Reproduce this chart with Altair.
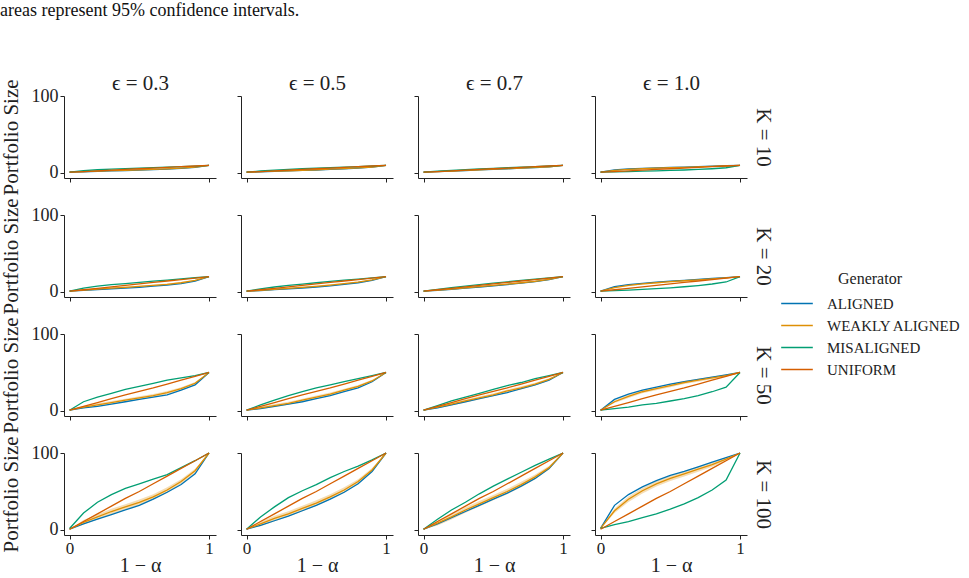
import altair as alt
import pandas as pd

# ---------------- data ----------------
X_LEVELS = [0.0, 0.1, 0.2, 0.3, 0.4, 0.5, 0.6, 0.7, 0.8, 0.9, 1.0]
K_VALUES = [10, 20, 50, 100]
EPSILONS = ["0.3", "0.5", "0.7", "1.0"]
GENERATORS = ["Aligned", "Weakly Aligned", "Misaligned", "Uniform"]
COLORS = ["#0173b2", "#de8f05", "#029e73", "#d55e00"]

# each list of 4 series follows EPSILONS order
ALIGNED_K10 = [
    [1, 1.6, 2.2, 2.7, 3.2, 3.8, 4.4, 5.1, 6.0, 7.3, 10],
    [1, 1.5, 2.1, 2.7, 3.3, 3.9, 4.6, 5.4, 6.3, 7.6, 10],
    [1, 1.7, 2.5, 3.2, 4.0, 4.7, 5.4, 6.2, 7.0, 8.0, 10],
    [1, 4.0, 5.2, 6.0, 6.6, 7.2, 7.7, 8.2, 8.8, 9.4, 10],
]
WEAKLY_K10 = [
    [1, 1.8, 2.4, 3.0, 3.5, 4.1, 4.7, 5.4, 6.3, 7.6, 10],
    [1, 1.7, 2.3, 2.9, 3.5, 4.2, 4.9, 5.7, 6.6, 7.8, 10],
    [1, 1.8, 2.6, 3.4, 4.2, 4.9, 5.6, 6.4, 7.2, 8.1, 10],
    [1, 3.4, 4.6, 5.5, 6.2, 6.8, 7.4, 8.0, 8.6, 9.2, 10],
]
MISALIGNED_K10 = [
    [1, 3.0, 4.2, 5.1, 5.8, 6.4, 7.0, 7.6, 8.3, 9.0, 10],
    [1, 2.6, 3.7, 4.7, 5.5, 6.2, 6.9, 7.6, 8.3, 9.1, 10],
    [1, 2.3, 3.4, 4.3, 5.2, 6.0, 6.8, 7.5, 8.3, 9.1, 10],
    [1, 1.5, 1.9, 2.3, 2.8, 3.3, 3.9, 4.6, 5.5, 6.8, 10],
]
UNIFORM_K10 = [1, 1.9, 2.8, 3.7, 4.6, 5.5, 6.4, 7.3, 8.2, 9.1, 10]
CI_K10 = [0, 0.4, 0.5, 0.5, 0.5, 0.5, 0.5, 0.5, 0.4, 0.3, 0]

ALIGNED_K20 = [
    [1, 2.0, 3.0, 4.0, 5.0, 6.0, 7.5, 9.0, 11.0, 14.0, 20],
    [1, 1.8, 3.0, 4.0, 5.2, 6.5, 8.0, 10.0, 12.0, 15.0, 20],
    [1, 2.0, 3.5, 5.0, 6.5, 8.0, 9.7, 11.5, 13.4, 16.0, 20],
    [1, 7.0, 9.5, 11.3, 12.8, 14.1, 15.2, 16.3, 17.5, 18.7, 20],
]
WEAKLY_K20 = [
    [1, 2.3, 3.6, 5.0, 6.0, 7.2, 8.5, 10.0, 12.0, 15.0, 20],
    [1, 2.2, 3.4, 4.6, 6.0, 7.4, 9.0, 10.8, 12.8, 15.6, 20],
    [1, 2.3, 3.8, 5.3, 6.9, 8.5, 10.2, 12.0, 13.9, 16.3, 20],
    [1, 5.8, 8.5, 10.5, 12.0, 13.4, 14.6, 15.8, 17.1, 18.4, 20],
]
MISALIGNED_K20 = [
    [1, 5.0, 7.5, 9.5, 11.0, 12.5, 14.0, 15.5, 17.0, 18.5, 20],
    [1, 4.0, 6.5, 8.5, 10.3, 12.0, 13.7, 15.3, 16.8, 18.4, 20],
    [1, 3.5, 5.6, 7.5, 9.5, 11.4, 13.2, 15.0, 16.8, 18.4, 20],
    [1, 1.8, 2.5, 3.3, 4.3, 5.4, 6.8, 8.4, 10.4, 13.0, 20],
]
UNIFORM_K20 = [1, 2.9, 4.8, 6.7, 8.6, 10.5, 12.4, 14.3, 16.2, 18.1, 20]
CI_K20 = [0, 0.7, 0.9, 1.0, 1.0, 1.0, 1.0, 1.0, 0.9, 0.7, 0]

ALIGNED_K50 = [
    [1, 4, 6, 9, 12, 15, 18, 21, 27, 34, 50],
    [1, 3, 6, 9, 12, 16, 20, 25, 30, 38, 50],
    [1, 4, 8, 12, 16, 20, 24, 29, 34, 40, 50],
    [1, 15, 22, 27, 31, 35, 38, 41, 44, 47, 50],
]
WEAKLY_K50 = [
    [1, 5, 8, 11, 14, 17, 20, 24, 29, 36, 50],
    [1, 4, 7, 10, 14, 18, 22, 27, 32, 39, 50],
    [1, 5, 9, 13, 17, 21, 26, 30, 35, 41, 50],
    [1, 12, 19, 25, 29, 33, 37, 40, 43, 46, 50],
]
MISALIGNED_K50 = [
    [1, 12, 18, 23, 28, 32, 36, 40, 43, 46, 50],
    [1, 8, 14, 20, 25, 30, 34, 38, 42, 46, 50],
    [1, 7, 13, 18, 23, 28, 33, 37, 42, 46, 50],
    [1, 3, 5, 8, 10, 13, 16, 20, 25, 31, 50],
]
UNIFORM_K50 = [1, 6, 11, 16, 21, 25.5, 30, 35, 40, 45, 50]
CI_K50 = [0, 1.5, 2, 2, 2, 2, 2, 2, 1.8, 1.5, 0]

ALIGNED_K100 = [
    [1, 8, 14, 20, 26, 32, 40, 49, 59, 73, 100],
    [1, 6, 12, 18, 25, 32, 40, 49, 60, 76, 100],
    [1, 8, 16, 24, 32, 40, 48, 57, 67, 80, 100],
    [2, 32, 46, 56, 64, 71, 76, 82, 88, 94, 100],
]
WEAKLY_K100 = [
    [1, 10, 17, 24, 30, 36, 43, 52, 63, 77, 100],
    [1, 8, 15, 21, 28, 35, 43, 52, 63, 78, 100],
    [1, 9, 17, 26, 34, 42, 50, 59, 69, 81, 100],
    [2, 25, 40, 51, 60, 67, 73, 79, 85, 92, 100],
]
MISALIGNED_K100 = [
    [2, 22, 36, 46, 54, 60, 66, 72, 81, 90, 100],
    [1, 17, 30, 42, 51, 59, 68, 76, 83, 91, 100],
    [1, 14, 26, 36, 47, 57, 66, 75, 84, 92, 100],
    [2, 7, 11, 16, 21, 27, 34, 42, 52, 65, 100],
]
UNIFORM_K100 = [1, 11, 21, 31, 41, 50, 60, 70, 80, 90, 100]
CI_K100 = [0, 3, 3.5, 3.5, 3.5, 3.5, 3.5, 3.5, 3, 2.5, 0]

ALIGNED = {10: ALIGNED_K10, 20: ALIGNED_K20, 50: ALIGNED_K50, 100: ALIGNED_K100}
WEAKLY = {10: WEAKLY_K10, 20: WEAKLY_K20, 50: WEAKLY_K50, 100: WEAKLY_K100}
MISALIGNED = {10: MISALIGNED_K10, 20: MISALIGNED_K20, 50: MISALIGNED_K50, 100: MISALIGNED_K100}
UNIFORM = {10: UNIFORM_K10, 20: UNIFORM_K20, 50: UNIFORM_K50, 100: UNIFORM_K100}
CI = {10: CI_K10, 20: CI_K20, 50: CI_K50, 100: CI_K100}

records = []
for K in K_VALUES:
    for ei, eps in enumerate(EPSILONS):
        series = {
            "Aligned": ALIGNED[K][ei],
            "Weakly Aligned": WEAKLY[K][ei],
            "Misaligned": MISALIGNED[K][ei],
            "Uniform": UNIFORM[K],
        }
        for gen in GENERATORS:
            for i, xv in enumerate(X_LEVELS):
                yv = series[gen][i]
                ci = CI[K][i] if gen == "Weakly Aligned" else 0
                records.append({"K": K, "eps": eps, "gen": gen, "x": xv,
                                "y": yv, "lo": yv - ci, "hi": yv + ci})
df = pd.DataFrame(records)

# ---------------- styling ----------------
FONT = "Liberation Serif"
XSCALE = alt.Scale(domain=[-0.04, 1.05], nice=False, zero=False)
YSCALE = alt.Scale(domain=[-6.5, 100], nice=False, zero=False)
PANEL_W, PANEL_H = 152, 82

color_enc = alt.Color(
    "gen:N",
    scale=alt.Scale(domain=GENERATORS, range=COLORS),
    sort=GENERATORS,
    legend=alt.Legend(
        title="Generator", orient="none", legendX=716, legendY=175,
        labelExpr="upper(datum.label)", symbolType="stroke", symbolSize=1000,
        symbolStrokeWidth=1.5, titleAnchor="middle", titleFont=FONT,
        titleFontSize=16, titleFontWeight="normal", labelFont=FONT,
        labelFontSize=15, labelOffset=13, rowPadding=6, clipHeight=15,
        titlePadding=9, titleColor="#222", labelColor="#222",
    ),
)


def make_panel(ki, ei):
    K = K_VALUES[ki]
    eps = EPSILONS[ei]
    sub = df[(df.K == K) & (df.eps == eps)]
    band_data = sub[sub.gen == "Weakly Aligned"]
    bottom = ki == 3
    first = ei == 0
    x_axis = alt.Axis(values=[0, 1], labels=bottom, format="d",
                      title=("1 − α" if bottom else None), grid=False,
                      labelFontSize=17, labelPadding=1, titlePadding=-1,
                      titleFontSize=20)
    y_axis = alt.Axis(values=[0, 100], labels=first, format="d",
                      title=("Portfolio Size" if first else None), grid=False,
                      titleFontSize=21, titlePadding=10)
    x = alt.X("x:Q", scale=XSCALE, axis=x_axis)
    band = alt.Chart(band_data).mark_area(opacity=0.3, color=COLORS[1]).encode(
        x=x, y=alt.Y("lo:Q", scale=YSCALE, axis=y_axis), y2="hi:Q"
    )
    lines = alt.Chart(sub).mark_line(strokeWidth=1.3).encode(
        x=x, y=alt.Y("y:Q", scale=YSCALE, axis=y_axis), color=color_enc,
    )
    base = alt.layer(band, lines)
    extras = []
    if ki == 0:
        extras.append(alt.Chart(sub).mark_line(opacity=0).encode(
            x=alt.X("x:Q", scale=XSCALE, axis=alt.Axis(
                orient="top", title=f"ϵ = {eps}", labels=False, ticks=False,
                domain=False, grid=False, titlePadding=3)),
            y=alt.Y("y:Q", scale=YSCALE, axis=None),
            detail="gen:N",
        ))
    if ei == 3:
        extras.append(alt.Chart(sub).mark_line(opacity=0).encode(
            x=alt.X("x:Q", scale=XSCALE, axis=None),
            y=alt.Y("y:Q", scale=YSCALE, axis=alt.Axis(
                orient="right", title=f"K = {K}", labels=False, ticks=False,
                domain=False, grid=False, titleAngle=90, titlePadding=5)),
            detail="gen:N",
        ))
    if extras:
        ch = alt.layer(base, *extras).resolve_axis(x="independent", y="independent")
    else:
        ch = base
    return ch.properties(width=PANEL_W, height=PANEL_H)


panels = [make_panel(ki, ei) for ki in range(4) for ei in range(4)]

chart = alt.concat(
    *panels, columns=4, spacing={"row": 37, "column": 25}, bounds="flush"
).properties(
    title=alt.TitleParams(
        "areas represent 95% confidence intervals.", anchor="start",
        frame="bounds", fontSize=18, font=FONT, fontWeight="normal",
        color="#111", offset=52),
    padding={"left": 0, "top": 2, "right": 0, "bottom": 0},
).configure_view(stroke=None).configure_axis(
    domainColor="#222", tickColor="#222", domainWidth=1, tickWidth=1, tickSize=4,
    labelFont=FONT, labelFontSize=18, labelColor="#222", labelPadding=2,
    titleFont=FONT, titleFontSize=21, titleFontWeight="normal", titleColor="#222",
    titlePadding=6,
)

chart.save("out.html", embed_options={"renderer": "svg", "actions": False})
